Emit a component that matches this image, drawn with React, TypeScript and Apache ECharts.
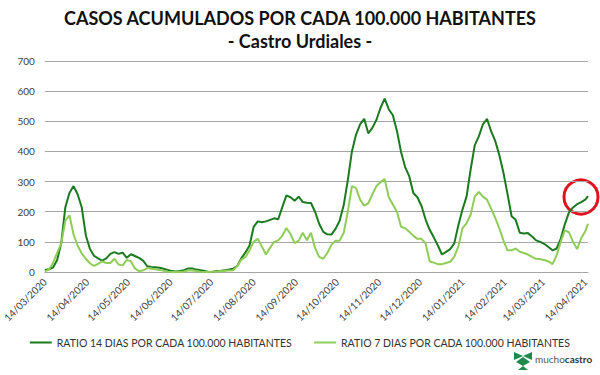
import React, { useEffect, useRef } from "react";
import * as echarts from "echarts";

// Daily category axis: 14/03/2020 .. 16/04/2021
const categories: string[] = (() => {
  const out: string[] = [];
  const start = Date.UTC(2020, 2, 14);
  for (let i = 0; i <= 398; i++) {
    const d = new Date(start + i * 86400000);
    const dd = String(d.getUTCDate()).padStart(2, "0");
    const mm = String(d.getUTCMonth() + 1).padStart(2, "0");
    out.push(`${dd}/${mm}/${d.getUTCFullYear()}`);
  }
  return out;
})();

const sampleDates = [
  "14/03/2020", "17/03/2020", "20/03/2020", "23/03/2020", "26/03/2020", "29/03/2020", "01/04/2020", "04/04/2020", "07/04/2020", "10/04/2020",
  "13/04/2020", "16/04/2020", "19/04/2020", "22/04/2020", "25/04/2020", "28/04/2020", "01/05/2020", "04/05/2020", "07/05/2020", "10/05/2020",
  "13/05/2020", "16/05/2020", "19/05/2020", "22/05/2020", "25/05/2020", "28/05/2020", "31/05/2020", "03/06/2020", "06/06/2020", "09/06/2020",
  "12/06/2020", "15/06/2020", "18/06/2020", "21/06/2020", "24/06/2020", "27/06/2020", "30/06/2020", "03/07/2020", "06/07/2020", "09/07/2020",
  "12/07/2020", "15/07/2020", "18/07/2020", "21/07/2020", "24/07/2020", "27/07/2020", "30/07/2020", "02/08/2020", "05/08/2020", "08/08/2020",
  "11/08/2020", "14/08/2020", "17/08/2020", "20/08/2020", "23/08/2020", "26/08/2020", "29/08/2020", "01/09/2020", "04/09/2020", "07/09/2020",
  "10/09/2020", "13/09/2020", "16/09/2020", "19/09/2020", "22/09/2020", "25/09/2020", "28/09/2020", "01/10/2020", "04/10/2020", "07/10/2020",
  "10/10/2020", "13/10/2020", "16/10/2020", "19/10/2020", "22/10/2020", "25/10/2020", "28/10/2020", "31/10/2020", "03/11/2020", "06/11/2020",
  "09/11/2020", "12/11/2020", "15/11/2020", "18/11/2020", "21/11/2020", "24/11/2020", "27/11/2020", "30/11/2020", "03/12/2020", "06/12/2020",
  "09/12/2020", "12/12/2020", "15/12/2020", "18/12/2020", "21/12/2020", "24/12/2020", "27/12/2020", "30/12/2020", "02/01/2021", "05/01/2021",
  "08/01/2021", "11/01/2021", "14/01/2021", "17/01/2021", "20/01/2021", "23/01/2021", "26/01/2021", "29/01/2021", "01/02/2021", "04/02/2021",
  "07/02/2021", "10/02/2021", "13/02/2021", "16/02/2021", "19/02/2021", "22/02/2021", "25/02/2021", "28/02/2021", "03/03/2021", "06/03/2021",
  "09/03/2021", "12/03/2021", "15/03/2021", "18/03/2021", "21/03/2021", "24/03/2021", "27/03/2021", "30/03/2021", "02/04/2021", "05/04/2021",
  "08/04/2021", "11/04/2021", "14/04/2021", "16/04/2021",
];

const ratio14 = [
  7, 9, 15, 40, 95, 215, 262, 285, 258, 215,
  122, 77, 54, 45, 38, 45, 60, 66, 60, 64,
  47, 59, 53, 47, 38, 19, 17, 16, 14, 11,
  7, 3, 2, 3, 6, 12, 12, 8, 6, 3,
  0, 1, 3, 4, 6, 8, 11, 20, 46, 65,
  88, 150, 168, 165, 168, 173, 178, 175, 215, 254,
  248, 236, 250, 232, 230, 229, 200, 160, 133, 125,
  124, 143, 170, 222, 305, 400, 455, 490, 508, 460,
  478, 505, 545, 575, 540, 520, 468, 398, 348, 318,
  262, 248, 219, 174, 140, 115, 88, 58, 67, 76,
  95, 155, 207, 250, 340, 420, 450, 490, 508, 467,
  435, 388, 330, 259, 185, 173, 130, 128, 129, 118,
  105, 100, 93, 83, 72, 78, 110, 158, 197, 214,
  225, 232, 240, 252,
];

const ratio7 = [
  2, 8, 30, 63, 95, 170, 188, 125, 88, 62,
  44, 29, 20, 27, 35, 30, 30, 44, 25, 22,
  40, 36, 12, 3, 5, 13, 11, 9, 7, 4,
  1, 0, 0, 0, 2, 5, 5, 3, 1, 0,
  0, 1, 2, 3, 4, 5, 6, 20, 41, 50,
  72, 100, 110, 85, 58, 80, 100, 105, 120, 146,
  126, 96, 104, 130, 105, 130, 80, 50, 44, 63,
  90, 104, 104, 130, 200, 285, 278, 240, 220, 228,
  258, 285, 298, 308, 248, 224, 200, 150, 145, 134,
  120, 110, 110, 95, 35, 31, 26, 26, 30, 34,
  50, 85, 145, 162, 190, 250, 266, 250, 240, 210,
  180, 145, 105, 72, 72, 78, 67, 63, 58, 50,
  44, 42, 40, 35, 26, 55, 100, 138, 132, 100,
  76, 112, 135, 160,
];

const seriesNames = [
  "RATIO 14 DIAS POR CADA 100.000 HABITANTES",
  "RATIO 7 DIAS POR CADA 100.000 HABITANTES",
];

const FONT = "Lato, 'Open Sans', sans-serif";

export default function App() {
  const ref = useRef<HTMLDivElement>(null);
  useEffect(() => {
    document.body.style.margin = "0";
    if (!ref.current) return;
    const chart = echarts.init(ref.current, undefined, { renderer: "svg" });
    chart.setOption({
      animation: false,
      backgroundColor: "#ffffff",
      title: [
        {
          text: "CASOS ACUMULADOS POR CADA 100.000 HABITANTES",
          left: "center",
          top: 4,
          textStyle: { fontFamily: FONT, fontSize: 18, fontWeight: "bold", color: "#111" },
        },
        {
          text: "- Castro Urdiales -",
          left: "center",
          top: 27,
          textStyle: { fontFamily: FONT, fontSize: 18, fontWeight: "bold", color: "#111" },
        },
      ],
      legend: {
        bottom: 22,
        left: "center",
        icon: "rect",
        itemWidth: 22,
        itemHeight: 2,
        itemGap: 22,
        textStyle: { fontFamily: FONT, fontSize: 10.5, color: "#333" },
        data: seriesNames,
      },
      grid: { left: 40, right: 12, top: 61, bottom: 103 },
      xAxis: {
        type: "category",
        data: categories,
        boundaryGap: false,
        axisLine: { lineStyle: { color: "#a6a6a6" } },
        axisTick: { show: false },
        axisLabel: {
          rotate: 45,
          fontFamily: FONT,
          fontSize: 10,
          color: "#404040",
          margin: 8,
          interval: (_i: number, v: string) => v.startsWith("14/"),
        },
        splitLine: { show: false },
      },
      yAxis: {
        type: "value",
        min: 0,
        max: 700,
        interval: 100,
        axisLine: { show: false },
        axisTick: { show: false },
        axisLabel: { fontFamily: FONT, fontSize: 10, color: "#404040", margin: 10 },
        splitLine: { lineStyle: { color: "#a6a6a6", width: 1 } },
      },
      series: [
        {
          name: seriesNames[0],
          type: "line",
          showSymbol: false,
          color: "#1b7a1f",
          lineStyle: { width: 2, color: "#1b7a1f" },
          data: sampleDates.map((d, i) => [d, ratio14[i]]),
        },
        {
          name: seriesNames[1],
          type: "line",
          showSymbol: false,
          color: "#8fcc58",
          lineStyle: { width: 2, color: "#8fcc58" },
          data: sampleDates.map((d, i) => [d, ratio7[i]]),
        },
      ],
      graphic: [
        {
          type: "circle",
          shape: { cx: 581, cy: 197, r: 17 },
          style: { fill: "none", stroke: "#e0131c", lineWidth: 3 },
        },
        {
          type: "group",
          left: 514,
          top: 352,
          children: [
            { type: "polygon", shape: { points: [[0, 0], [9, 4], [0, 8]] }, style: { fill: "#1f8a4c" } },
            { type: "polygon", shape: { points: [[18, 0], [9, 4], [18, 8]] }, style: { fill: "#1f8a4c" } },
            { type: "polygon", shape: { points: [[2, 10], [9, 5], [16, 10], [9, 14]] }, style: { fill: "#1f8a4c" } },
            { type: "polygon", shape: { points: [[4, 18], [9, 14], [14, 18]] }, style: { fill: "#1f8a4c" } },
            {
              type: "text",
              x: 21,
              y: 2,
              style: {
                text: "{a|mucho}{b|castro}",
                rich: {
                  a: { fontFamily: FONT, fontSize: 10, fill: "#555" },
                  b: { fontFamily: FONT, fontSize: 10, fontWeight: "bold", fill: "#333" },
                },
              },
            },
          ],
        },
      ],
    });
    return () => chart.dispose();
  }, []);
  return <div ref={ref} style={{ width: 600, height: 375 }} />;
}
